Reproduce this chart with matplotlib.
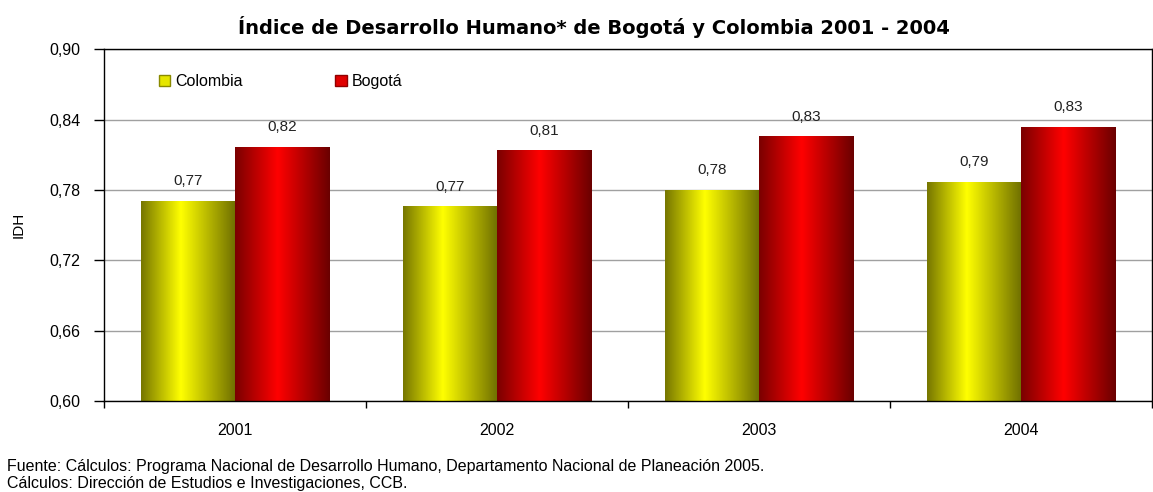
import numpy as np
import matplotlib
matplotlib.use("Agg")
import matplotlib.pyplot as plt
from matplotlib.colors import LinearSegmentedColormap
from matplotlib.patches import Patch

years = ["2001", "2002", "2003", "2004"]
colombia = [0.771, 0.766, 0.780, 0.787]
bogota = [0.817, 0.814, 0.826, 0.834]
colombia_labels = ["0,77", "0,77", "0,78", "0,79"]
bogota_labels = ["0,82", "0,81", "0,83", "0,83"]
yticks = [0.60, 0.66, 0.72, 0.78, 0.84, 0.90]

title = "Índice de Desarrollo Humano* de Bogotá y Colombia 2001 - 2004"
footer = ("Fuente: Cálculos: Programa Nacional de Desarrollo Humano, "
          "Departamento Nacional de Planeación 2005.\n"
          "Cálculos: Dirección de Estudios e Investigaciones, CCB.")

plt.rcParams["font.family"] = ["Liberation Sans", "DejaVu Sans"]

# horizontal shading like the old Excel cylinder fill
cmap_col = LinearSegmentedColormap.from_list(
    "col", [(0, "#767600"), (0.42, "#ffff00"), (1, "#6e6e00")])
cmap_bog = LinearSegmentedColormap.from_list(
    "bog", [(0, "#7a0000"), (0.45, "#ff0000"), (1, "#6a0000")])
grad = np.linspace(0, 1, 256).reshape(1, -1)

fig = plt.figure(figsize=(11.53, 4.92), dpi=100)
ax = fig.add_axes([0.0902, 0.185, 0.9089, 0.7148])

x = np.arange(len(years))
w = 0.36
bars_c = ax.bar(x - w / 2, colombia, w, bottom=0, color="none", edgecolor="none")
bars_b = ax.bar(x + w / 2, bogota, w, bottom=0, color="none", edgecolor="none")

for bars, cmap in ((bars_c, cmap_col), (bars_b, cmap_bog)):
    for p in bars:
        x0, x1 = p.get_x(), p.get_x() + p.get_width()
        im = ax.imshow(grad, cmap=cmap, aspect="auto",
                       extent=[x0, x1, 0.60, p.get_height()], zorder=2)
        im.set_clip_path(p)

for i in range(len(years)):
    ax.annotate(colombia_labels[i], (x[i] - w / 2, colombia[i]),
                xytext=(0, 9), textcoords="offset points",
                ha="center", va="bottom", fontsize=11, color="#222222")
    ax.annotate(bogota_labels[i], (x[i] + w / 2, bogota[i]),
                xytext=(0, 9), textcoords="offset points",
                ha="center", va="bottom", fontsize=11, color="#222222")

ax.set_xlim(-0.5, len(years) - 0.5)
ax.set_ylim(0.60, 0.90)
ax.set_yticks(yticks)
ax.set_yticklabels([f"{v:.2f}".replace(".", ",") for v in yticks], fontsize=11.5)
ax.set_xticks(x)
ax.set_xticklabels(years, fontsize=11.5)
ax.set_xticks(np.arange(len(years) + 1) - 0.5, minor=True)
ax.tick_params(axis="x", which="major", length=0, pad=16)
ax.tick_params(axis="x", which="minor", length=5, width=1, direction="out")
ax.tick_params(axis="y", length=7, width=1, direction="out", pad=10)
ax.grid(axis="y", color="#a0a0a0", linewidth=1, zorder=0)
ax.set_axisbelow(True)
for s in ax.spines.values():
    s.set_color("black")
    s.set_linewidth(1)

ax.set_ylabel("IDH", fontsize=11)
ax.yaxis.set_label_coords(-0.0744, 0.5)

handles = [Patch(facecolor="#e6e600", edgecolor="#8a8a00", label="Colombia"),
           Patch(facecolor="#e00000", edgecolor="#900000", label="Bogotá")]
ax.legend(handles=handles, ncol=2, frameon=False, loc="upper left",
          bbox_to_anchor=(0.039, 0.97), fontsize=11.5, handlelength=0.7,
          handleheight=0.7, handletextpad=0.3, columnspacing=5.8)

fig.text(0.515, 0.945, title, ha="center", va="center", fontsize=14,
         fontweight="bold", family=["DejaVu Sans"])
fig.text(0.006, 0.002, footer, ha="left", va="bottom", fontsize=11.5,
         family=["Liberation Sans Narrow", "Liberation Sans"], linespacing=1.2)

fig.savefig("out.png", dpi=100)
